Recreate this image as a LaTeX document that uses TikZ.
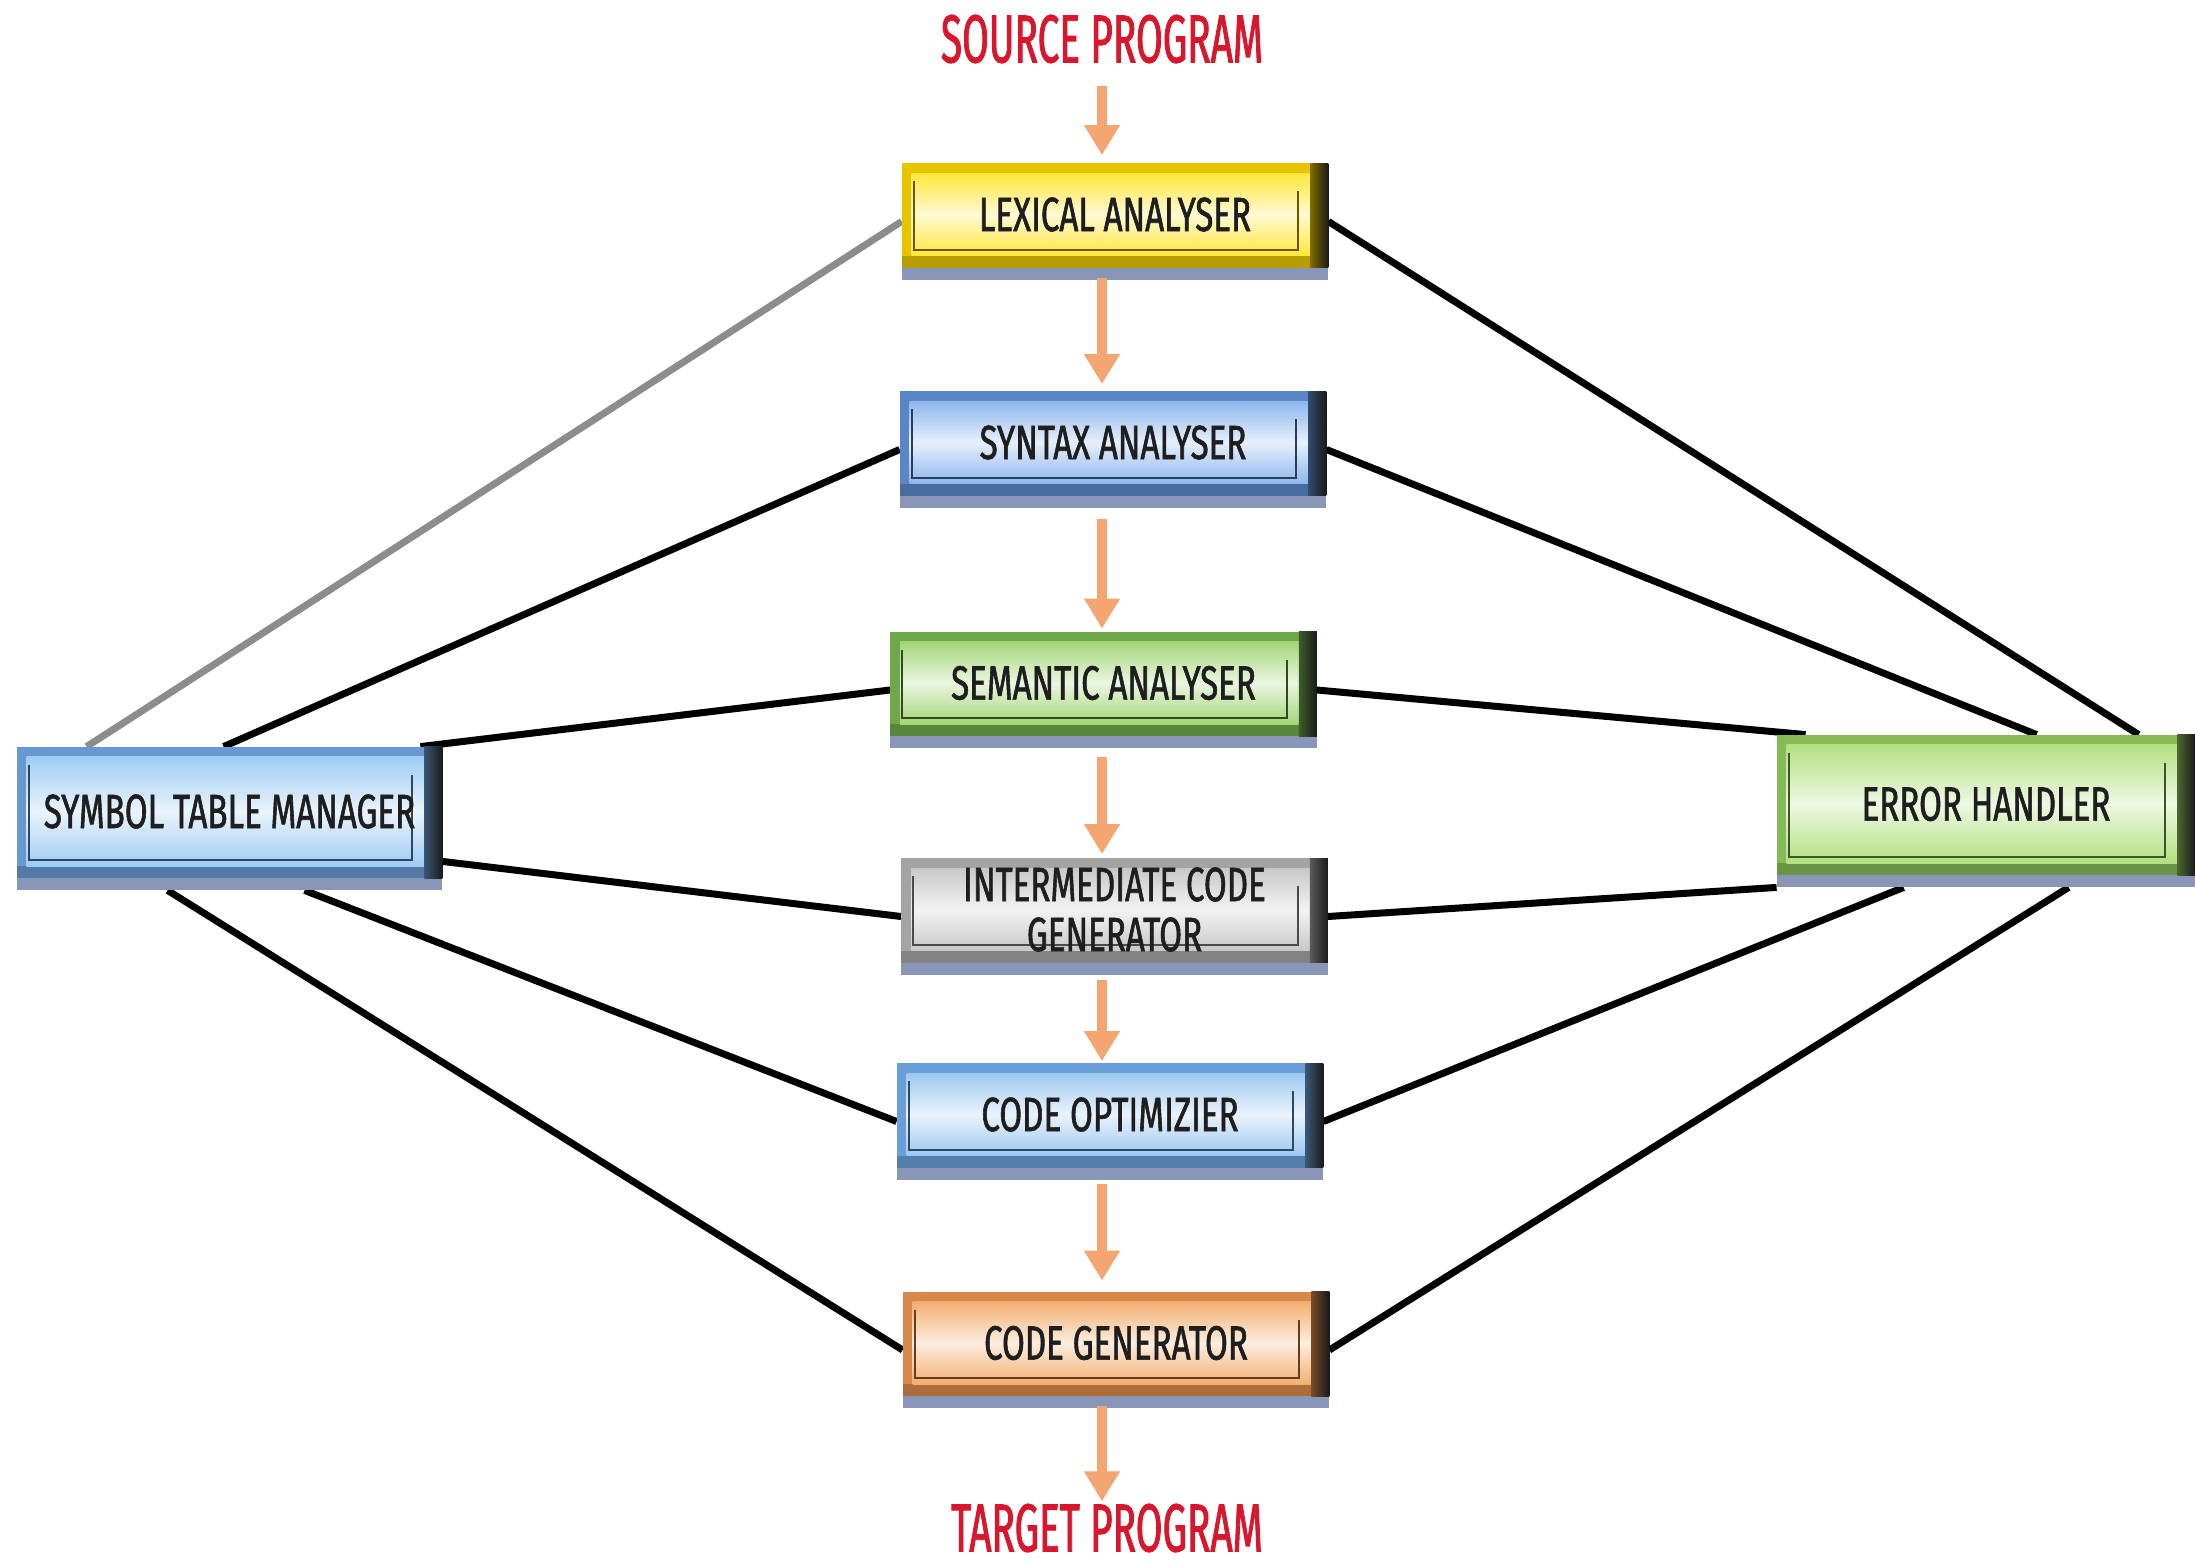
\documentclass[tikz,border=0pt]{standalone}
\usepackage{fontspec}
\newfontfamily\condfont{Fira Sans}[FakeStretch=0.69, FakeBold=1.2]
\newfontfamily\titlefont{Fira Sans}[FakeStretch=0.57, FakeBold=1.2]
\usetikzlibrary{arrows.meta,calc}
\pgfdeclarelayer{canvas}
\pgfdeclarelayer{links}
\pgfdeclarelayer{plates}
\pgfsetlayers{canvas,links,plates,main}

\definecolor{flowpeach}{HTML}{F4A672}
\definecolor{titlered}{HTML}{D8162C}
\definecolor{labelink}{HTML}{1E1E1E}
\definecolor{stripgrey}{HTML}{8A96B8}
\definecolor{lexbase}{HTML}{E6C400}\definecolor{lexface}{HTML}{FFE63A}
\definecolor{synbase}{HTML}{5A86C8}\definecolor{synface}{HTML}{8EB6EC}
\definecolor{sembase}{HTML}{6EA84A}\definecolor{semface}{HTML}{A2D676}
\definecolor{intbase}{HTML}{A4A4A4}\definecolor{intface}{HTML}{C8C8C8}
\definecolor{optbase}{HTML}{6A9ED8}\definecolor{optface}{HTML}{9CC8F0}
\definecolor{genbase}{HTML}{D8884A}\definecolor{genface}{HTML}{F2AE70}
\definecolor{symbase}{HTML}{6898D0}\definecolor{symface}{HTML}{9ECCF4}
\definecolor{errbase}{HTML}{86BA56}\definecolor{errface}{HTML}{B2E080}

% bevelled plate behind a node: #1 node name, #2 bevel colour, #3 face colour
\newcommand\plate[3]{%
  \begin{pgfonlayer}{plates}
    \fill[#2] (#1.north west) rectangle (#1.south east);
    \fill[#2!80!black] ($(#1.south west)+(0,-24)$) rectangle ($(#1.south east)+(0,-12)$);
    \fill[stripgrey] ($(#1.south west)+(0,-12)$) rectangle (#1.south east);
    \shade[top color=#3, bottom color=#3, middle color=#3!22]
      ($(#1.north west)+(10,10)$) rectangle ($(#1.south east)+(-16,-24)$);
    \shade[left color=#2!55!black, right color=black!90]
      ($(#1.north east)+(-18,0)$) rectangle ($(#1.south east)+(0,-12)$);
    \draw[#2!45!black, line width=1pt]
      ($(#1.north west)+(12,18)$) -- ($(#1.south west)+(12,-30)$)
      -- ($(#1.south east)+(-30,-30)$) -- ($(#1.north east)+(-30,28)$);
  \end{pgfonlayer}}

\tikzset{
  x=0.5pt, y=-0.5pt,
  caption/.style={font=\condfont\fontsize{24}{26}\selectfont, text=labelink,
    align=center, inner sep=0pt, yshift=3.5pt},
  stage/.style={minimum width=213pt, minimum height=58pt, inner sep=0pt},
  title/.style={font=\titlefont\fontsize{34}{36}\selectfont, text=titlered, inner sep=0pt},
  flow/.style={draw=flowpeach, line width=5pt, -{Triangle[width=17pt,length=15pt]}},
  link/.style={line width=3.5pt, draw=black},
}

\begin{document}
\begin{tikzpicture}
\begin{pgfonlayer}{canvas}
\fill[white] (0,0) rectangle (2195,1568);
\end{pgfonlayer}
\useasboundingbox (0,0) rectangle (2195,1568);

% titles
\node[title] (src) at (1102,39) {SOURCE PROGRAM};
\node[title] (tgt) at (1107,1528) {TARGET PROGRAM};

% compiler phases
\node[stage, label={[caption]center:LEXICAL ANALYSER}] (lex) at (1115,221.5) {};
\node[stage, label={[caption]center:SYNTAX ANALYSER}] (syn) at (1113,449.5) {};
\node[stage, label={[caption]center:SEMANTIC ANALYSER}] (sem) at (1103.5,690) {};
\node[stage, label={[caption]center:INTERMEDIATE CODE\\[-1pt]GENERATOR}] (int) at (1114.5,916.5) {};
\node[stage, label={[caption]center:CODE OPTIMIZIER}] (opt) at (1110,1121.5) {};
\node[stage, label={[caption]center:CODE GENERATOR}] (gen) at (1116,1350) {};

% side components
\node[stage, minimum width=212.5pt, minimum height=71.5pt,
      label={[caption]center:SYMBOL TABLE MANAGER}] (sym) at (229.5,818.5) {};
\node[stage, minimum width=209pt, minimum height=76pt,
      label={[caption]center:ERROR HANDLER}] (err) at (1986,811) {};

\plate{lex}{lexbase}{lexface}
\plate{syn}{synbase}{synface}
\plate{sem}{sembase}{semface}
\plate{int}{intbase}{intface}
\plate{opt}{optbase}{optface}
\plate{gen}{genbase}{genface}
\plate{sym}{symbase}{symface}
\plate{err}{errbase}{errface}

% main flow
\draw[flow, shorten <=11pt, shorten >=4pt] (src.south) -- (lex.north -| src);
\draw[flow, shorten <=-1pt, shorten >=3.5pt] (lex.south -| src) -- (syn.north -| src);
\draw[flow, shorten <=5.5pt, shorten >=1.5pt] (syn.south -| src) -- (sem.north -| src);
\draw[flow, shorten <=4.5pt, shorten >=2pt] (sem.south -| src) -- (int.north -| src);
\draw[flow, shorten <=2.5pt, shorten >=1pt] (int.south -| src) -- (opt.north -| src);
\draw[flow, shorten <=2pt, shorten >=5.5pt] (opt.south -| src) -- (gen.north -| src);
\draw[flow, shorten <=-1pt, shorten >=1pt] (gen.south -| src) -- (tgt.north -| src);

% links to the symbol table and the error handler
\begin{pgfonlayer}{links}
\draw[link, draw=black!45] (lex.west) -- ($(sym.north west)+(70,0)$);
\draw[link] (syn.west) -- ($(sym.north west)+(207,0)$);
\draw[link] (sem.west) -- ($(sym.north east)+(-22,0)$);
\draw[link] (int.west) -- ($(sym.south east)+(0,-29)$);
\draw[link] (opt.west) -- ($(sym.south west)+(288,0)$);
\draw[link] (gen.west) -- ($(sym.south west)+(151,0)$);

\draw[link] (lex.east) -- ($(err.north west)+(362,0)$);
\draw[link] (syn.east) -- ($(err.north west)+(260,0)$);
\draw[link] (sem.east) -- ($(err.north west)+(29,0)$);
\draw[link] (int.east) -- (err.south west);
\draw[link] (opt.east) -- ($(err.south west)+(127,0)$);
\draw[link] (gen.east) -- ($(err.south west)+(292,0)$);
\end{pgfonlayer}
\end{tikzpicture}
\end{document}
